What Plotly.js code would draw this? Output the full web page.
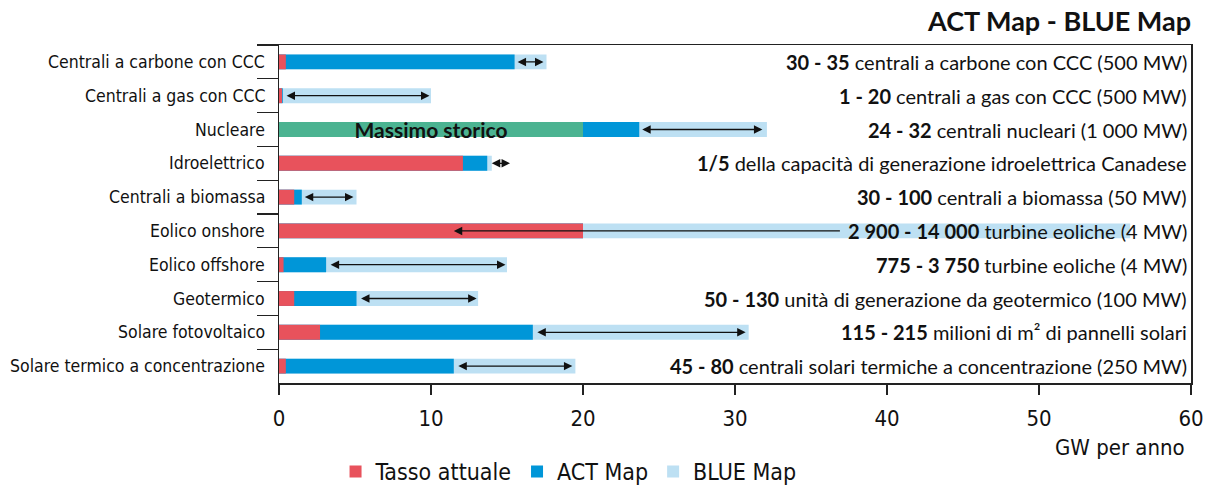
<!DOCTYPE html>
<html>
<head>
<meta charset="utf-8">
<script src="https://cdn.plot.ly/plotly-3.0.1.min.js"></script>
<style>html,body{margin:0;padding:0;background:#fff;}#chart{width:1208px;height:488px;}</style>
</head>
<body>
<div id="chart"></div>
<script>
const categories = ["Centrali a carbone con CCC","Centrali a gas con CCC","Nucleare","Idroelettrico","Centrali a biomassa","Eolico onshore","Eolico offshore","Geotermico","Solare fotovoltaico","Solare termico a concentrazione"];
// cumulative end values (GW per anno)
const tasso   = [0.45, 0.2, null, 12.1, 1.0, 20.0, 0.3, 1.0, 2.7, 0.45];
const storico = [null, null, 20.0, null, null, null, null, null, null, null];
const act     = [15.5, 0.25, 23.7, 13.7, 1.5, 20.0, 3.1, 5.1, 16.7, 11.5];
const blue    = [17.6, 10.0, 32.1, 14.0, 5.1, 56.0, 15.0, 13.1, 30.9, 19.5];
const arrowFrom = [15.6, 0.4, 23.8, 13.9, 1.6, 37.0, 3.3, 5.3, 16.9, 11.7];
const arrowTo   = [17.4, 9.9, 31.8, 15.2, 4.9, 11.5, 14.9, 13.0, 30.7, 19.3];
const arrowBoth = [true, true, true, true, true, false, true, true, true, true];
const rangeBold = ["30 - 35","1 - 20","24 - 32","1/5","30 - 100","2 900 - 14 000","775 - 3 750","50 - 130","115 - 215","45 - 80"];
const rangeText = [" centrali a carbone con CCC (500 MW)"," centrali a gas con CCC (500 MW)"," centrali nucleari (1 000 MW)"," della capacità di generazione idroelettrica Canadese"," centrali a biomassa (50 MW)"," turbine eoliche (4 MW)"," turbine eoliche (4 MW)"," unità di generazione da geotermico (100 MW)"," milioni di m² di pannelli solari"," centrali solari termiche a concentrazione (250 MW)"];
const xTicks = [0,10,20,30,40,50,60];
const seriesNames = ["Tasso attuale","ACT Map","BLUE Map"];

const condensed = "'DejaVu Sans Condensed','Liberation Sans Narrow',Roboto,sans-serif";
const geo = "Lato,'Open Sans',sans-serif";
const W = 0.44;

const traces = [
  {type:'bar', orientation:'h', y:categories, x:blue, name:seriesNames[2], marker:{color:'#bde0f3'}, width:W, legendrank:3},
  {type:'bar', orientation:'h', y:categories, x:act, name:seriesNames[1], marker:{color:'#0096d8'}, width:W, legendrank:2},
  {type:'bar', orientation:'h', y:categories, x:storico, name:'Massimo storico', showlegend:false, marker:{color:'#4bb391'}, width:W,
   text:storico.map(v=>v===null?'':'<b>Massimo storico</b>'), textposition:'inside', insidetextanchor:'middle',
   textfont:{family:geo, size:21, color:'#111'}, constraintext:'none'},
  {type:'bar', orientation:'h', y:categories, x:tasso, name:seriesNames[0], marker:{color:'#e8525c'}, width:W, legendrank:1}
];

const annotations = [];
categories.forEach((c,i)=>{
  annotations.push({x:arrowTo[i], y:c, ax:arrowFrom[i], ay:c, xref:'x', yref:'y', axref:'x', ayref:'y',
    text:'', showarrow:true, arrowhead:2, arrowsize:1.3, arrowwidth:1.3, arrowcolor:'#111',
    arrowside: arrowBoth[i] ? 'end+start' : 'end', standoff:0, startstandoff:0});
  annotations.push({x:1, xref:'paper', xanchor:'right', y:c, yref:'y', yanchor:'middle', xshift:-2,
    text:'<b>'+rangeBold[i]+'</b>'+rangeText[i], showarrow:false,
    font:{family:geo, size:20, color:'#111'}});
  annotations.push({x:0, xref:'paper', xanchor:'right', y:c, yref:'y', yanchor:'middle', xshift:-12,
    text:c, showarrow:false, font:{family:condensed, size:17.5, color:'#111'}});
});
annotations.push({x:1, xref:'paper', xanchor:'right', y:-0.19, yref:'paper', yanchor:'middle', xshift:-4,
  text:'GW per anno', showarrow:false, font:{family:condensed, size:22, color:'#111'}});

const layout = {
  width:1208, height:488,
  margin:{l:279, r:17, t:45, b:105, autoexpand:false},
  paper_bgcolor:'#fff', plot_bgcolor:'#fff',
  barmode:'overlay',
  title:{text:'<b>ACT Map - BLUE Map</b>', x:1, xref:'paper', xanchor:'right', y:0.955, yanchor:'middle',
    font:{family:geo, size:27, color:'#111'}},
  xaxis:{range:[0,60], tickvals:xTicks, ticks:'outside', ticklen:10, tickcolor:'#222', tickwidth:1.2,
    ticklabelstandoff:5,
    showline:true, linecolor:'#222', linewidth:1.5, mirror:true, showgrid:false, zeroline:false,
    tickfont:{family:condensed, size:22, color:'#111'}},
  yaxis:{type:'category', categoryorder:'array', categoryarray:categories, autorange:'reversed',
    ticks:'outside', tickson:'boundaries', ticklen:21, tickcolor:'#222', tickwidth:1.2, showticklabels:false,
    showline:true, linecolor:'#222', linewidth:1.5, mirror:true, showgrid:false, zeroline:false},
  showlegend:true,
  legend:{orientation:'h', x:0.062, xanchor:'left', y:-0.262, yanchor:'middle', traceorder:'normal',
    font:{family:condensed, size:23, color:'#111'}, itemwidth:30, tracegroupgap:0, bgcolor:'rgba(0,0,0,0)'},
  annotations:annotations
};

Plotly.newPlot('chart', traces, layout, {staticPlot:true});
</script>
</body>
</html>
